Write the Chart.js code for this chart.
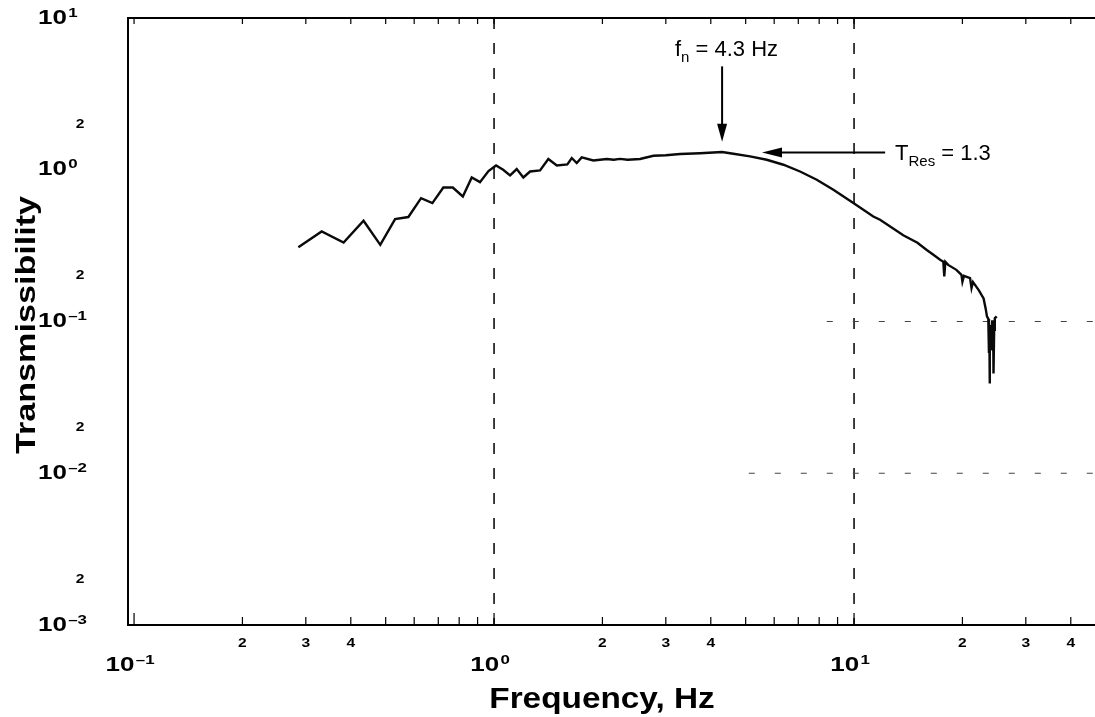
<!DOCTYPE html>
<html>
<head>
<meta charset="utf-8">
<title>Transmissibility</title>
<script src="https://cdn.jsdelivr.net/npm/chart.js@4/dist/chart.umd.min.js"></script>
<style>
  html, body { margin: 0; padding: 0; background: #fff; }
  canvas { display: block; }
</style>
</head>
<body>
<canvas id="chart" width="1095" height="717"></canvas>
<script>
// measured transmissibility curve (Hz, ratio)
const frequency = [
  0.286, 0.332, 0.382, 0.434, 0.483, 0.531, 0.578, 0.627, 0.674, 0.723,
  0.768, 0.819, 0.867, 0.914, 0.965, 1.013, 1.060, 1.108, 1.156, 1.206,
  1.259, 1.342, 1.415, 1.494, 1.598, 1.644, 1.697, 1.752, 1.887, 2.056,
  2.150, 2.239, 2.350, 2.544, 2.771, 3.000, 3.286, 3.734, 4.064, 4.300,
  4.621, 5.141, 5.721, 6.364, 7.079, 7.878, 8.761, 9.956, 11.31, 11.81,
  13.70, 15.00, 15.92, 16.61, 17.34, 17.70, 17.81, 17.93, 18.26, 19.24,
  19.88, 20.00, 20.20, 21.00, 21.20, 21.40, 22.20, 22.90, 23.20, 23.40,
  23.60, 23.70, 23.75, 23.80, 23.85, 23.90, 24.00, 24.10, 24.20, 24.30,
  24.35, 24.40, 24.50, 24.60, 24.90
];
const transmissibility = [
  0.309, 0.392, 0.331, 0.461, 0.320, 0.473, 0.488, 0.650, 0.603, 0.764,
  0.764, 0.667, 0.889, 0.829, 0.980, 1.067, 1.000, 0.917, 1.011, 0.889,
  0.974, 0.989, 1.177, 1.067, 1.084, 1.195, 1.107, 1.206, 1.152, 1.177,
  1.165, 1.180, 1.165, 1.177, 1.237, 1.245, 1.269, 1.285, 1.300, 1.310,
  1.275, 1.224, 1.164, 1.079, 0.974, 0.859, 0.738, 0.603, 0.492, 0.468,
  0.370, 0.330, 0.296, 0.275, 0.255, 0.248, 0.198, 0.247, 0.236, 0.219,
  0.203, 0.183, 0.200, 0.193, 0.166, 0.182, 0.161, 0.142, 0.122, 0.108,
  0.104, 0.062, 0.095, 0.039, 0.090, 0.066, 0.094, 0.070, 0.102, 0.064,
  0.090, 0.0455, 0.088, 0.105, 0.108
];

// log axes: decade exponents, and which minor digits get a label
const xDecades = [-1, 0, 1];
const yDecades = [-3, -2, -1, 0, 1];
const xMinorLabels = ['2', '3', '4'];
const yMinorLabels = ['2'];
const xRange = [0.0962, 46.7];
const yRange = [0.001, 10];

// dashed reference lines
const dashedFreqs = [1, 10];
const stubLines = [{ value: 0.1, from: 8.4 }, { value: 0.01, from: 5.1 }];

// resonance callouts
const naturalFreq = 4.3;
const resonanceT = 1.3;

const FONT = '"Liberation Sans", Arial, Helvetica, sans-serif';

// "10" with a raised exponent, drawn slightly widened like the old heavy face
function powerLabel(ctx, exp, x, y, align) {
  const sx = 1.3;
  const base = '10';
  const sup = String(exp).replace('-', '–');
  ctx.font = 'bold 20px ' + FONT;
  const wb = ctx.measureText(base).width;
  ctx.font = 'bold 13px ' + FONT;
  const ws = ctx.measureText(sup).width;
  const total = (wb + ws + 1) * sx;
  const left = align === 'center' ? x - total / 2 : x;
  ctx.save();
  ctx.translate(left, y);
  ctx.scale(sx, 1);
  ctx.textAlign = 'left';
  ctx.textBaseline = 'middle';
  ctx.font = 'bold 20px ' + FONT;
  ctx.fillText(base, 0, 0);
  ctx.font = 'bold 13px ' + FONT;
  ctx.fillText(sup, wb + 1, -5);
  ctx.restore();
}

function boldDigit(ctx, s, x, y) {
  ctx.save();
  ctx.translate(x, y);
  ctx.scale(1.2, 1);
  ctx.font = 'bold 13px ' + FONT;
  ctx.textAlign = 'center';
  ctx.textBaseline = 'middle';
  ctx.fillText(s, 0, 0);
  ctx.restore();
}

function arrow(ctx, x1, y1, x2, y2, head, half) {
  const ang = Math.atan2(y2 - y1, x2 - x1);
  ctx.beginPath();
  ctx.moveTo(x1, y1);
  ctx.lineTo(x2 - Math.cos(ang) * head * 0.8, y2 - Math.sin(ang) * head * 0.8);
  ctx.stroke();
  ctx.beginPath();
  ctx.moveTo(x2, y2);
  ctx.lineTo(x2 - Math.cos(ang) * head - Math.sin(ang) * half, y2 - Math.sin(ang) * head + Math.cos(ang) * half);
  ctx.lineTo(x2 - Math.cos(ang) * head + Math.sin(ang) * half, y2 - Math.sin(ang) * head - Math.cos(ang) * half);
  ctx.closePath();
  ctx.fill();
}

// subscripted label such as f_n or T_Res
function subText(ctx, main, sub, rest, x, y) {
  ctx.textAlign = 'left';
  ctx.textBaseline = 'alphabetic';
  ctx.font = '22px ' + FONT;
  ctx.fillText(main, x, y);
  let cx = x + ctx.measureText(main).width;
  ctx.font = '15px ' + FONT;
  ctx.fillText(sub, cx, y + 6);
  cx += ctx.measureText(sub).width;
  ctx.font = '22px ' + FONT;
  ctx.fillText(rest, cx, y);
}

const frame = {
  id: 'frame',
  beforeDraw(chart) {
    const ctx = chart.ctx;
    ctx.save();
    ctx.fillStyle = '#fff';
    ctx.fillRect(0, 0, chart.width, chart.height);
    ctx.restore();
  },
  beforeDatasetsDraw(chart) {
    const { ctx, chartArea: a, scales: { x, y } } = chart;
    ctx.save();
    ctx.strokeStyle = '#111';
    ctx.lineWidth = 1.6;
    ctx.setLineDash([11, 14]);
    dashedFreqs.forEach(f => {
      const px = x.getPixelForValue(f);
      ctx.beginPath();
      ctx.moveTo(px, a.top);
      ctx.lineTo(px, a.bottom);
      ctx.stroke();
    });
    ctx.strokeStyle = '#444';
    ctx.lineWidth = 1.2;
    ctx.setLineDash([6, 20]);
    stubLines.forEach(s => {
      const py = y.getPixelForValue(s.value);
      ctx.beginPath();
      ctx.moveTo(x.getPixelForValue(s.from), py);
      ctx.lineTo(a.right, py);
      ctx.stroke();
    });
    ctx.restore();
  },
  afterDraw(chart) {
    const { ctx, chartArea: a, scales: { x, y } } = chart;
    ctx.save();
    ctx.strokeStyle = '#000';
    ctx.fillStyle = '#000';

    // frame: top, left, bottom
    ctx.lineWidth = 2;
    ctx.beginPath();
    ctx.moveTo(a.right, a.top);
    ctx.lineTo(a.left, a.top);
    ctx.lineTo(a.left, a.bottom);
    ctx.lineTo(a.right, a.bottom);
    ctx.stroke();

    // x ticks, pointing into the plot on bottom and top
    ctx.lineWidth = 1.2;
    xDecades.forEach(d => {
      for (let k = 1; k <= 9; k++) {
        const v = k * Math.pow(10, d);
        if (v < xRange[0] || v > xRange[1]) continue;
        const px = x.getPixelForValue(v);
        const len = k === 1 ? 12 : 8;
        ctx.beginPath();
        ctx.moveTo(px, a.bottom);
        ctx.lineTo(px, a.bottom - len);
        ctx.moveTo(px, a.top);
        ctx.lineTo(px, a.top + 6);
        ctx.stroke();
        if (k > 1 && xMinorLabels.includes(String(k))) {
          boldDigit(ctx, String(k), px, a.bottom + 18);
        }
      }
      powerLabel(ctx, d, x.getPixelForValue(Math.pow(10, d)) - 4, a.bottom + 40, 'center');
    });

    // y labels
    yDecades.forEach(d => {
      powerLabel(ctx, d, a.left - 90, y.getPixelForValue(Math.pow(10, d)), 'left');
      yMinorLabels.forEach(m => {
        const v = Number(m) * Math.pow(10, d);
        if (v > yRange[1]) return;
        boldDigit(ctx, m, a.left - 48, y.getPixelForValue(v));
      });
    });

    // axis titles
    ctx.font = 'bold 29px ' + FONT;
    ctx.textAlign = 'center';
    ctx.textBaseline = 'middle';
    ctx.save();
    ctx.translate(602, a.bottom + 75);
    ctx.scale(1.15, 1);
    ctx.fillText('Frequency, Hz', 0, 0);
    ctx.restore();
    ctx.save();
    ctx.font = 'bold 28px ' + FONT;
    ctx.translate(27, 325);
    ctx.rotate(-Math.PI / 2);
    ctx.scale(1.22, 1);
    ctx.fillText('Transmissibility', 0, 0);
    ctx.restore();

    // natural frequency callout
    ctx.lineWidth = 2;
    const fx = x.getPixelForValue(naturalFreq);
    arrow(ctx, fx, y.getPixelForValue(4.8), fx, y.getPixelForValue(1.53), 18, 5);
    subText(ctx, 'f', 'n', ' = 4.3 Hz', x.getPixelForValue(3.18), y.getPixelForValue(5.6));

    // resonance callout
    const ry = y.getPixelForValue(resonanceT);
    arrow(ctx, x.getPixelForValue(12.2), ry, x.getPixelForValue(5.55), ry, 20, 5);
    subText(ctx, 'T', 'Res', ' = 1.3', x.getPixelForValue(13.0), ry + 8);
    ctx.restore();
  }
};

new Chart(document.getElementById('chart'), {
  type: 'scatter',
  data: {
    datasets: [{
      data: frequency.map((f, i) => ({ x: f, y: transmissibility[i] })),
      showLine: true,
      borderColor: '#0a0a0a',
      borderWidth: 2.4,
      pointRadius: 0,
      tension: 0
    }]
  },
  options: {
    responsive: false,
    animation: false,
    layout: { padding: { left: 128, right: 0, top: 18, bottom: 92 } },
    plugins: { legend: { display: false }, tooltip: { enabled: false } },
    scales: {
      x: { type: 'logarithmic', min: xRange[0], max: xRange[1], display: false },
      y: { type: 'logarithmic', min: yRange[0], max: yRange[1], display: false }
    }
  },
  plugins: [frame]
});
</script>
</body>
</html>
